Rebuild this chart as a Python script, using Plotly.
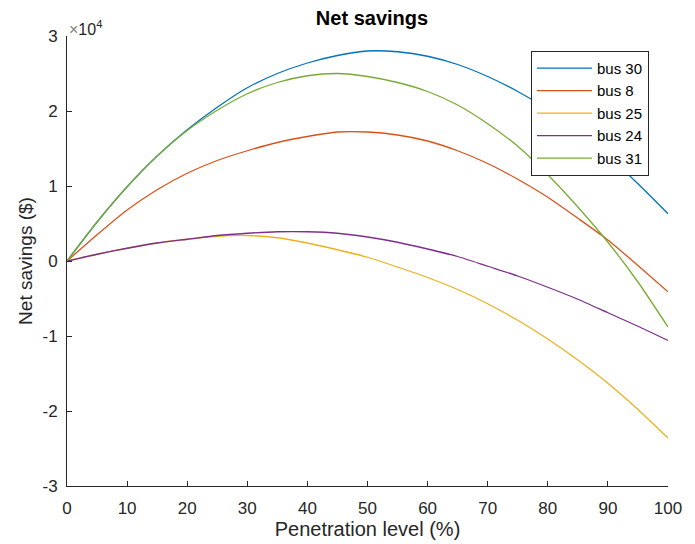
import plotly.graph_objects as go

# Penetration level (%) and net savings ($) for each bus
penetration = [0, 5, 10, 15, 20, 25, 30, 35, 40, 45, 50,
               55, 60, 65, 70, 75, 80, 85, 90, 95, 100]

bus_30 = [0, 5200, 9900, 14000, 17500, 20500, 23100, 25000, 26400, 27400, 28000,
          27900, 27300, 26200, 24600, 22600, 20200, 17200, 14000, 10300, 6300]
bus_8 = [0, 3500, 6800, 9500, 11700, 13400, 14700, 15800, 16600, 17200, 17200,
         16800, 16000, 14700, 13000, 10900, 8500, 5700, 2800, -600, -4100]
bus_25 = [0, 900, 1700, 2400, 2900, 3300, 3400, 3100, 2400, 1500, 500,
          -800, -2200, -3800, -5700, -7900, -10400, -13200, -16300, -19800, -23600]
bus_24 = [0, 900, 1700, 2400, 2900, 3400, 3700, 3900, 3900, 3700, 3200,
          2500, 1600, 600, -700, -2000, -3500, -5100, -6900, -8700, -10600]
bus_31 = [0, 5200, 9900, 14000, 17400, 20100, 22300, 23800, 24700, 25000, 24600,
          23800, 22600, 20800, 18300, 15300, 11500, 7200, 2500, -2800, -8800]

series_names = ["bus 30", "bus 8", "bus 25", "bus 24", "bus 31"]
series_values = [bus_30, bus_8, bus_25, bus_24, bus_31]
series_colors = ["#0072BD", "#D95319", "#EDB120", "#7E2F8E", "#77AC30"]

x_ticks = list(range(0, 101, 10))
y_ticks = [-30000, -20000, -10000, 0, 10000, 20000, 30000]
y_tick_text = ["-3", "-2", "-1", "0", "1", "2", "3"]

axis_color = "#262626"
font_family = "Liberation Sans, Arial, sans-serif"

fig = go.Figure()
for name, vals, col in zip(series_names, series_values, series_colors):
    fig.add_trace(go.Scatter(
        x=penetration, y=vals, name=name, mode="lines",
        line=dict(color=col, width=1.3, shape="spline", smoothing=0.6),
    ))

fig.update_layout(
    width=695, height=544,
    margin=dict(l=67, r=27, t=36, b=58),
    paper_bgcolor="white", plot_bgcolor="white",
    font=dict(family=font_family, color=axis_color, size=17),
    title=dict(text="<b>Net savings</b>", xref="paper", x=0.5075, xanchor="center",
               y=0.967, yanchor="middle",
               font=dict(size=20, color="#000000", family=font_family)),
    legend=dict(x=0.772, y=0.967, xanchor="left", yanchor="top",
                bordercolor=axis_color, borderwidth=1, bgcolor="white",
                font=dict(size=15, color="#000000"), tracegroupgap=0,
                itemwidth=55),
    showlegend=True,
)

fig.update_xaxes(
    range=[0, 100], tickvals=x_ticks, ticks="inside", ticklen=5,
    tickcolor=axis_color, showline=True, linecolor=axis_color, linewidth=1,
    showgrid=False, zeroline=False, mirror=False, ticklabelstandoff=7,
    automargin=False, tickfont=dict(size=17, color=axis_color),
    title=dict(text="Penetration level (%)", font=dict(size=20, color=axis_color),
               standoff=1),
)
fig.update_yaxes(
    range=[-30000, 30000], tickvals=y_ticks, ticktext=y_tick_text,
    ticks="inside", ticklen=5, tickcolor=axis_color, showline=True,
    linecolor=axis_color, linewidth=1, showgrid=False, zeroline=False,
    mirror=False, ticklabelstandoff=5, automargin=False,
    tickfont=dict(size=17, color=axis_color),
    title=dict(text="Net savings ($)", font=dict(size=19, color=axis_color),
               standoff=4),
)

# Axis exponent label
fig.add_annotation(
    xref="paper", yref="paper", x=0, y=1, xanchor="left", yanchor="bottom",
    text="<span style='color:#808080'>×</span>10<sup>4</sup>", showarrow=False,
    font=dict(size=16, color=axis_color), xshift=0, yshift=-4,
)

fig.write_html("out.html")
